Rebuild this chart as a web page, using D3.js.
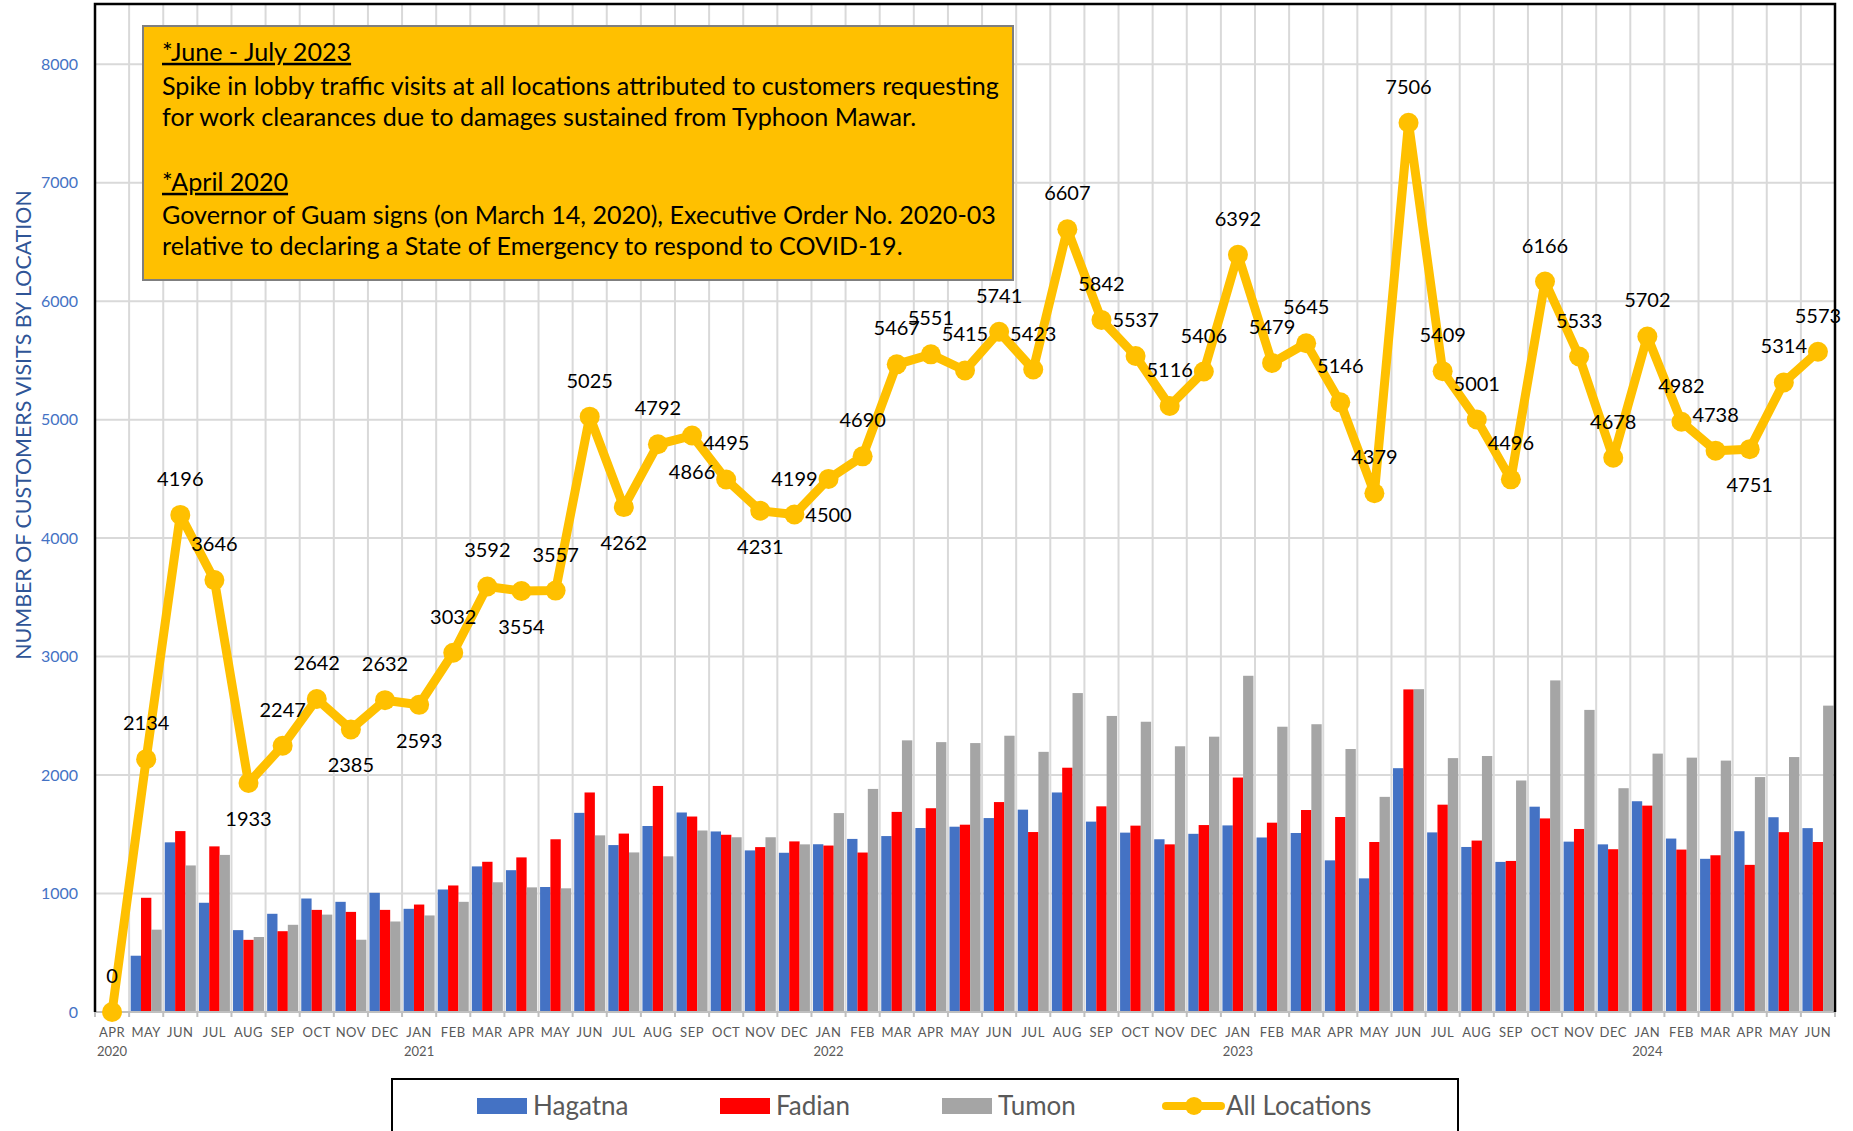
<!DOCTYPE html>
<html>
<head>
<meta charset="utf-8">
<script src="https://cdn.jsdelivr.net/npm/d3@7"></script>
<style>
    body { margin: 0; background: #fff; }
    svg { display: block; font-family: Lato, "Open Sans", sans-serif; }
    .grid line { stroke: #d9d9d9; stroke-width: 2; }
</style>
</head>
<body>
<svg id="chart" width="1853" height="1131"></svg>
<script>
// months Apr 2020 .. Jun 2024
const MONTHS = ["APR","MAY","JUN","JUL","AUG","SEP","OCT","NOV","DEC",
    "JAN","FEB","MAR","APR","MAY","JUN","JUL","AUG","SEP","OCT","NOV","DEC",
    "JAN","FEB","MAR","APR","MAY","JUN","JUL","AUG","SEP","OCT","NOV","DEC",
    "JAN","FEB","MAR","APR","MAY","JUN","JUL","AUG","SEP","OCT","NOV","DEC",
    "JAN","FEB","MAR","APR","MAY","JUN"];
const YEARS = [[0, "2020"], [9, "2021"], [21, "2022"], [33, "2023"], [45, "2024"]];

const HAGATNA = [0, 475, 1432, 922, 691, 829, 958, 930, 1006,
    871, 1034, 1229, 1197, 1055, 1681, 1409, 1570, 1684, 1524, 1364, 1344,
    1416, 1461, 1485, 1553, 1564, 1637, 1708, 1853, 1607, 1514, 1458, 1504,
    1575, 1473, 1511, 1280, 1128, 2058, 1516, 1393, 1267, 1733, 1438, 1415,
    1779, 1464, 1293, 1526, 1644, 1552];
const FADIAN = [0, 964, 1527, 1398, 609, 682, 862, 845, 862,
    907, 1068, 1268, 1305, 1458, 1853, 1506, 1908, 1650, 1496, 1392, 1440,
    1405, 1346, 1689, 1720, 1581, 1772, 1519, 2062, 1736, 1573, 1415, 1578,
    1979, 1598, 1705, 1646, 1435, 2723, 1750, 1447, 1275, 1634, 1545, 1374,
    1742, 1371, 1323, 1242, 1518, 1435];
const TUMON = [0, 695, 1237, 1326, 633, 736, 822, 610, 764,
    815, 930, 1095, 1052, 1044, 1491, 1347, 1314, 1532, 1475, 1475, 1415,
    1679, 1883, 2293, 2278, 2270, 2332, 2196, 2692, 2499, 2450, 2243, 2324,
    2838, 2408, 2429, 2220, 1816, 2725, 2143, 2161, 1954, 2799, 2550, 1889,
    2181, 2147, 2122, 1983, 2152, 2586];
const ALL_LOCATIONS = [0, 2134, 4196, 3646, 1933, 2247, 2642, 2385, 2632,
    2593, 3032, 3592, 3554, 3557, 5025, 4262, 4792, 4866, 4495, 4231, 4199,
    4500, 4690, 5467, 5551, 5415, 5741, 5423, 6607, 5842, 5537, 5116, 5406,
    6392, 5479, 5645, 5146, 4379, 7506, 5409, 5001, 4496, 6166, 5533, 4678,
    5702, 4982, 4738, 4751, 5314, 5573];
const Y_TICKS = [0, 1000, 2000, 3000, 4000, 5000, 6000, 7000, 8000];

const SERIES = [
    {name: "Hagatna", values: HAGATNA, color: "#4472c4"},
    {name: "Fadian", values: FADIAN, color: "#ff0000"},
    {name: "Tumon", values: TUMON, color: "#a5a5a5"}
];

const NOTES = [
    {head: "*June - July 2023", lines: [
        "Spike in lobby traffic visits at all locations attributed to customers requesting",
        "for work clearances due to damages sustained from Typhoon Mawar."]},
    {head: "*April 2020", lines: [
        "Governor of Guam signs (on March 14, 2020), Executive Order No. 2020-03",
        "relative to declaring a State of Emergency to respond to COVID-19."]}
];

// labels that sit under their point instead of above
const LABEL_BELOW = [4, 7, 9, 12, 15, 17, 19, 21, 48];

const LINE_COLOR = "#ffc000";
const PLOT = {left: 95, right: 1835, top: 5, bottom: 1012};

// shrink/grow font so the text hits a target width
function fitWidth(sel, width){
    let w = sel.node().getComputedTextLength(),
        fs = parseFloat(sel.attr("font-size"));
    sel.attr("font-size", fs * width / w);
    return fs * width / w;
}

let svg = d3.select("#chart");
let idx = d3.range(MONTHS.length);

let x0 = d3.scaleBand().domain(idx).range([PLOT.left, PLOT.right]).padding(0);
let x1 = d3.scaleBand().domain(SERIES.map(s => s.name))
    .range([0, x0.bandwidth()]).paddingInner(0).paddingOuter(0.15);
let y = d3.scaleLinear().domain([0, 8500]).range([PLOT.bottom, PLOT.top]);

// grid
let grid = svg.append("g").attr("class", "grid");
grid.selectAll("line.h")
    .data(Y_TICKS.slice(1))
    .enter().append("line")
        .attr("class", "h")
        .attr("x1", PLOT.left).attr("x2", PLOT.right)
        .attr("y1", d => y(d)).attr("y2", d => y(d));
grid.selectAll("line.v")
    .data(d3.range(1, MONTHS.length))
    .enter().append("line")
        .attr("class", "v")
        .attr("x1", d => x0(d)).attr("x2", d => x0(d))
        .attr("y1", PLOT.top).attr("y2", PLOT.bottom);

// y axis labels
svg.append("g")
    .attr("transform", `translate(${PLOT.left - 17},0)`)
    .call(d3.axisLeft(y).tickValues(Y_TICKS).tickFormat(d3.format("d")).tickSize(0).tickPadding(0))
    .call(g => g.select(".domain").remove())
    .selectAll("text")
        .attr("font-family", "Lato, sans-serif")
        .attr("font-size", 16)
        .attr("fill", "#4472c4");

// bars
let groups = svg.append("g").selectAll("g.month")
    .data(idx)
    .enter().append("g")
        .attr("class", "month")
        .attr("transform", i => `translate(${x0(i)},0)`);

groups.selectAll("rect")
    .data(i => SERIES.map(s => ({name: s.name, color: s.color, v: s.values[i]})))
    .enter().append("rect")
        .attr("x", d => x1(d.name))
        .attr("width", x1.bandwidth())
        .attr("y", d => y(d.v))
        .attr("height", d => y(0) - y(d.v))
        .attr("fill", d => d.color);

// x axis
let xAxis = svg.append("g").attr("transform", `translate(0,${PLOT.bottom})`);
xAxis.append("line")
    .attr("x1", PLOT.left).attr("x2", PLOT.right)
    .attr("stroke", "#bfbfbf").attr("stroke-width", 2);
xAxis.selectAll("line.tick")
    .data(d3.range(0, MONTHS.length + 1))
    .enter().append("line")
        .attr("class", "tick")
        .attr("x1", d => PLOT.left + d * x0.step())
        .attr("x2", d => PLOT.left + d * x0.step())
        .attr("y1", 0).attr("y2", 5)
        .attr("stroke", "#bfbfbf").attr("stroke-width", 2);
xAxis.selectAll("text.month")
    .data(idx)
    .enter().append("text")
        .attr("class", "month")
        .attr("x", i => x0(i) + x0.bandwidth() / 2)
        .attr("y", 25)
        .attr("text-anchor", "middle")
        .attr("font-size", 13)
        .attr("letter-spacing", 0.5)
        .attr("fill", "#595959")
        .text(i => MONTHS[i]);
xAxis.selectAll("text.year")
    .data(YEARS)
    .enter().append("text")
        .attr("class", "year")
        .attr("x", d => x0(d[0]) + x0.bandwidth() / 2)
        .attr("y", 44)
        .attr("text-anchor", "middle")
        .attr("font-size", 13)
        .attr("fill", "#595959")
        .text(d => d[1]);

// plot frame (left, top, right)
svg.append("path")
    .attr("d", `M${PLOT.left},${PLOT.bottom}V${PLOT.top - 1}H${PLOT.right}V${PLOT.bottom}`)
    .attr("fill", "none")
    .attr("stroke", "#000")
    .attr("stroke-width", 2.5);

// all locations line
let line = d3.line()
    .x((d, i) => x0(i) + x0.bandwidth() / 2)
    .y(d => y(d));

svg.append("path")
    .datum(ALL_LOCATIONS)
    .attr("d", line)
    .attr("fill", "none")
    .attr("stroke", LINE_COLOR)
    .attr("stroke-width", 9)
    .attr("stroke-linejoin", "round");

svg.append("g").selectAll("circle")
    .data(ALL_LOCATIONS)
    .enter().append("circle")
        .attr("cx", (d, i) => x0(i) + x0.bandwidth() / 2)
        .attr("cy", d => y(d))
        .attr("r", 10)
        .attr("fill", LINE_COLOR);

svg.append("g").selectAll("text")
    .data(ALL_LOCATIONS)
    .enter().append("text")
        .attr("x", (d, i) => x0(i) + x0.bandwidth() / 2)
        .attr("y", (d, i) => y(d) + (LABEL_BELOW.includes(i) ? 36 : -36))
        .attr("dy", "0.35em")
        .attr("text-anchor", "middle")
        .attr("font-size", 20)
        .attr("fill", "#000")
        .text(d => d);

// y title
svg.append("text")
    .attr("transform", "translate(23,425) rotate(-90)")
    .attr("text-anchor", "middle")
    .attr("dy", "0.35em")
    .attr("font-size", 22)
    .attr("fill", "#2f5597")
    .text("NUMBER OF CUSTOMERS VISITS BY LOCATION")
    .call(sel => fitWidth(sel, 470));

// annotation box
let note = svg.append("g");
note.append("rect")
    .attr("x", 143).attr("y", 26)
    .attr("width", 870).attr("height", 254)
    .attr("fill", "#ffc000")
    .attr("stroke", "#7f7f7f")
    .attr("stroke-width", 2);

let noteRows = [];
NOTES.forEach(n => {
    noteRows.push({text: n.head, head: true});
    n.lines.forEach(t => noteRows.push({text: t, head: false}));
});
let rowY = [52, 86, 117, 182, 215, 246];

let noteText = note.selectAll("text")
    .data(noteRows)
    .enter().append("text")
        .attr("x", 162)
        .attr("y", (d, i) => rowY[i])
        .attr("dy", "0.35em")
        .attr("font-size", 24)
        .attr("fill", "#000")
        .style("text-decoration", d => d.head ? "underline" : null)
        .text(d => d.text);
let fs = fitWidth(noteText.filter((d, i) => i === 1), 837);
noteText.attr("font-size", fs);

// legend
let legend = svg.append("g");
legend.append("rect")
    .attr("x", 392).attr("y", 1079)
    .attr("width", 1066).attr("height", 80)
    .attr("fill", "#fff")
    .attr("stroke", "#000")
    .attr("stroke-width", 2);

let legendX = [477, 720, 942];
SERIES.forEach((s, i) => {
    legend.append("rect")
        .attr("x", legendX[i]).attr("y", 1098)
        .attr("width", 50).attr("height", 16)
        .attr("fill", s.color);
    legend.append("text")
        .attr("x", legendX[i] + 56).attr("y", 1106)
        .attr("dy", "0.35em")
        .attr("font-size", 26)
        .attr("fill", "#595959")
        .text(s.name);
});
legend.append("line")
    .attr("x1", 1166).attr("x2", 1221)
    .attr("y1", 1106).attr("y2", 1106)
    .attr("stroke", LINE_COLOR)
    .attr("stroke-width", 8)
    .attr("stroke-linecap", "round");
legend.append("circle")
    .attr("cx", 1194).attr("cy", 1106).attr("r", 9)
    .attr("fill", LINE_COLOR);
legend.append("text")
    .attr("x", 1226).attr("y", 1106)
    .attr("dy", "0.35em")
    .attr("font-size", 26)
    .attr("fill", "#595959")
    .text("All Locations");
</script>
</body>
</html>
